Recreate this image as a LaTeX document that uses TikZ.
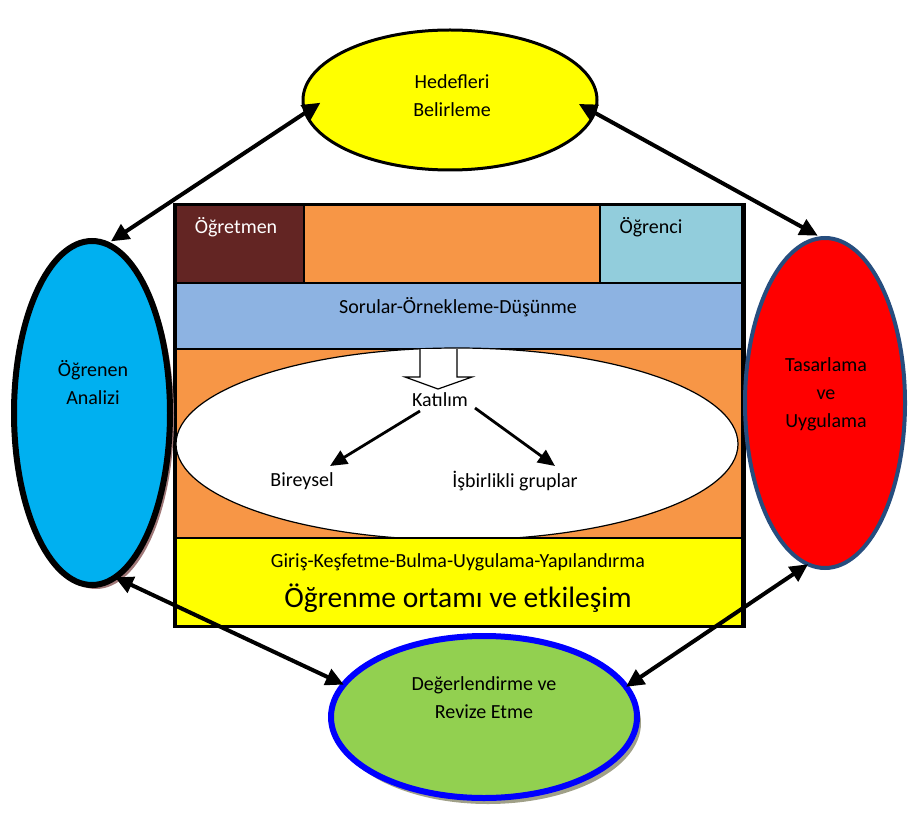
\documentclass[tikz,border=0pt]{standalone}
\usepackage{fontspec}
\setmainfont{Carlito}
\usetikzlibrary{arrows.meta,shapes.geometric,shadows}
\definecolor{cyel}{HTML}{FFFF00}
\definecolor{cblue}{HTML}{00B0F0}
\definecolor{cred}{HTML}{FF0000}
\definecolor{credb}{HTML}{264D7E}
\definecolor{cgreen}{HTML}{92D050}
\definecolor{cgreenb}{HTML}{0000FF}
\definecolor{cmaroon}{HTML}{632523}
\definecolor{corange}{HTML}{F79646}
\definecolor{caqua}{HTML}{92CDDC}
\definecolor{cband}{HTML}{8DB3E2}
\definecolor{shbrown}{HTML}{A07878}
\definecolor{shgray}{HTML}{A0A088}
\begin{document}
\begin{tikzpicture}[x=1pt,y=-1pt,
  oval/.style={ellipse,inner sep=0pt,outer sep=0pt},
  lbl/.style={font=\fontsize{20}{28}\selectfont,align=center,inner sep=0pt},
  box/.style={draw=black,line width=1.5pt},
  dbl/.style={line width=4pt,{Triangle[length=18pt,width=17pt]}-{Triangle[length=18pt,width=17pt]}},
  sarr/.style={line width=2.8pt,-{Triangle[length=17pt,width=15pt]}}]
\useasboundingbox (0,0) rectangle (909,818);

% main frame
\node[box,fill=cmaroon,minimum width=128pt,minimum height=78pt,inner sep=0pt,anchor=north west] (ogt) at (175,204) {};
\node[box,fill=corange,minimum width=296pt,minimum height=78pt,inner sep=0pt,anchor=north west] (mid) at (303,204) {};
\node[box,fill=caqua,minimum width=142pt,minimum height=78pt,inner sep=0pt,anchor=north west] (ogc) at (599,204) {};
\node[box,fill=cband,minimum width=566pt,minimum height=66pt,inner sep=0pt,anchor=north west] (band) at (175,282) {};
\node[box,fill=corange,minimum width=566pt,minimum height=189pt,inner sep=0pt,anchor=north west] (orng) at (175,348) {};
\node[draw=black,line width=1.2pt,fill=white,oval,minimum width=562pt,minimum height=192pt] (wov) at (457,444) {};
\node[box,fill=cyel,minimum width=566pt,minimum height=88pt,inner sep=0pt,anchor=north west] (ybox) at (175,537) {};
\node[draw=black,line width=3pt,minimum width=570pt,minimum height=422pt,inner sep=0pt,anchor=north west] (frame) at (173,203) {};

\node[lbl,text=white] (tOgt) at (236,227) {Öğretmen};
\node[lbl] (tOgc) at (651,227) {Öğrenci};
\node[lbl] (tSor) at (458,307) {Sorular-Örnekleme-Düşünme};
\node[lbl] (tGir) at (458,562) {Giriş-Keşfetme-Bulma-Uygulama-Yapılandırma};
\node[lbl,font=\fontsize{29.5}{34}\selectfont] (tOrt) at (458,598) {Öğrenme ortamı ve etkileşim};

% hollow arrow
\draw[line width=1.2pt,fill=white] (420,349) -- (420,377) -- (405,377) -- (438,389) -- (472,377) -- (457,377) -- (457,349);
\node[lbl] (kat) at (440,400) {Katılım};
\node[lbl] (bir) at (302,481) {Bireysel};
\node[lbl] (isb) at (515,481) {İşbirlikli gruplar};
\draw[sarr] ([xshift=-20pt,yshift=-11pt]kat.center) -- ([xshift=28pt,yshift=15pt]bir.center);
\draw[sarr] ([xshift=35pt,yshift=-8pt]kat.center) -- ([xshift=40pt,yshift=15pt]isb.center);

% outer ellipses
\node[oval,draw=black,line width=3pt,fill=cyel,minimum width=294pt,minimum height=140pt] (top) at (450,100) {};
\node[oval,draw=black,line width=6pt,fill=cblue,minimum width=156pt,minimum height=344pt,
  drop shadow={shadow xshift=4pt,shadow yshift=-4pt,fill=shbrown,opacity=1}] (left) at (92,413) {};
\node[oval,draw=credb,line width=4pt,fill=cred,minimum width=160pt,minimum height=330pt] (right) at (825,403) {};
\node[oval,draw=cgreenb,line width=6pt,fill=cgreen,minimum width=306pt,minimum height=162pt,
  drop shadow={shadow xshift=4pt,shadow yshift=-6pt,fill=shgray,opacity=1}] (bot) at (484,717) {};

\node[lbl] (tTop) at (452,96) {Hedefleri\\Belirleme};
\node[lbl] (tLeft) at (93,383) {Öğrenen\\Analizi};
\node[lbl] (tRight) at (826,394) {Tasarlama\\ve\\Uygulama};
\node[lbl] (tBot) at (484,698) {Değerlendirme ve\\Revize Etme};

% connectors
\draw[dbl,shorten <=-18pt,shorten >=5pt] (top.185) -- (left.85);
\draw[dbl,shorten <=-18pt,shorten >=5pt] (top.355) -- (right.91);
\draw[dbl] (left.278) -- (bot.167);
\draw[dbl] (right.264) -- (bot.12);
\end{tikzpicture}
\end{document}
